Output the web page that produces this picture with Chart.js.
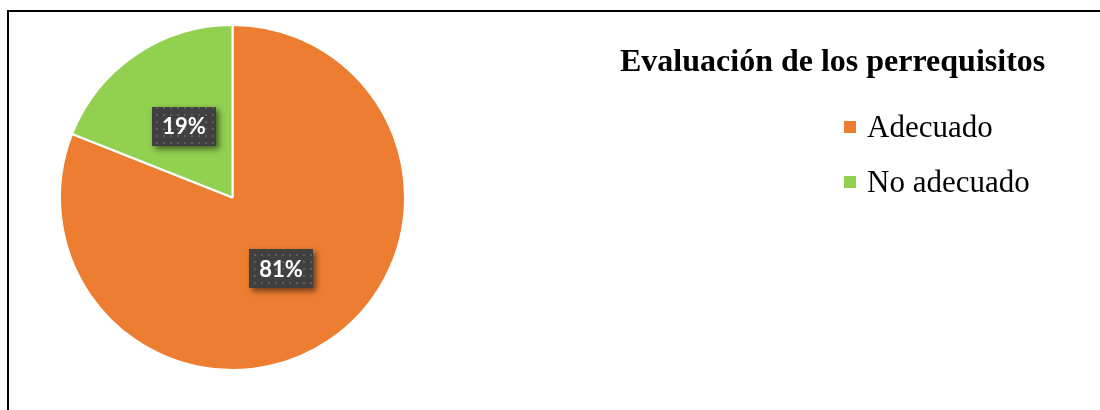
<!DOCTYPE html>
<html><head><meta charset="utf-8">
<script src="https://cdn.jsdelivr.net/npm/chart.js@4.4.0/dist/chart.umd.min.js"></script>
<style>
html,body{margin:0;padding:0;background:#fff;}
#wrap{position:relative;width:1100px;height:410px;overflow:hidden;background:#fff;}
#frame{position:absolute;left:7px;top:10px;width:1200px;height:500px;border-top:2px solid #000;border-left:2px solid #000;}
canvas{position:absolute;left:0;top:0;}
</style></head><body>
<div id="wrap"><div id="frame"></div><canvas id="c" width="1100" height="410"></canvas></div>
<script>
const chartTitle = 'Evaluación de los perrequisitos';
const categories = ['Adecuado', 'No adecuado'];
const values = [81, 19];
const colors = ['#ED7D31', '#92D050'];

const off = document.createElement('canvas');
off.width = 7; off.height = 7;
const octx = off.getContext('2d');
octx.fillStyle = '#5e5e5e';
octx.fillRect(2, 2, 2, 2);

const labelPlugin = {
  id: 'boxLabels',
  afterDatasetsDraw(chart) {
    const ctx = chart.ctx;
    const ds = chart.data.datasets[0];
    const total = ds.data.reduce((a, b) => a + b, 0);
    const meta = chart.getDatasetMeta(0);
    const pattern = ctx.createPattern(off, 'repeat');
    meta.data.forEach((arc, i) => {
      const p = arc.tooltipPosition();
      const txt = Math.round(ds.data[i] / total * 100) + '%';
      ctx.save();
      ctx.font = 'bold 22px Lato';
      const w = Math.round(ctx.measureText(txt).width + 20), h = 39;
      const x = Math.round(p.x - w / 2), y = Math.round(p.y - h / 2);
      ctx.shadowColor = 'rgba(0,0,0,0.55)';
      ctx.shadowBlur = 6; ctx.shadowOffsetX = 3; ctx.shadowOffsetY = 3;
      ctx.fillStyle = '#404040';
      ctx.fillRect(x, y, w, h);
      ctx.shadowColor = 'transparent';
      ctx.fillStyle = pattern;
      ctx.fillRect(x, y, w, h);
      ctx.fillStyle = '#ffffff';
      ctx.textAlign = 'center';
      ctx.textBaseline = 'middle';
      ctx.fillText(txt, p.x, p.y + 1);
      ctx.restore();
    });
  }
};

const legendPlugin = {
  id: 'sideLegend',
  afterDraw(chart) {
    const ctx = chart.ctx;
    const ds = chart.data.datasets[0];
    ctx.save();
    ctx.fillStyle = '#000';
    ctx.textAlign = 'left';
    ctx.textBaseline = 'alphabetic';
    ctx.font = 'bold 32px "Liberation Serif"';
    ctx.fillText(chartTitle, 620, 71);
    ctx.font = '31px "Liberation Serif"';
    chart.data.labels.forEach((lab, i) => {
      ctx.fillStyle = ds.backgroundColor[i];
      ctx.fillRect(844, 121 + 55 * i, 12, 12);
      ctx.fillStyle = '#000';
      ctx.fillText(lab, 867, 137 + 55 * i);
    });
    ctx.restore();
  }
};

new Chart(document.getElementById('c'), {
  type: 'pie',
  data: {
    labels: categories,
    datasets: [{
      data: values,
      backgroundColor: colors,
      borderColor: '#ffffff',
      borderWidth: 2
    }]
  },
  options: {
    responsive: false,
    animation: false,
    layout: { padding: { left: 59, top: 24, right: 694, bottom: 39 } },
    plugins: {
      legend: { display: false },
      tooltip: { enabled: false }
    }
  },
  plugins: [labelPlugin, legendPlugin]
});
</script>
</body></html>
